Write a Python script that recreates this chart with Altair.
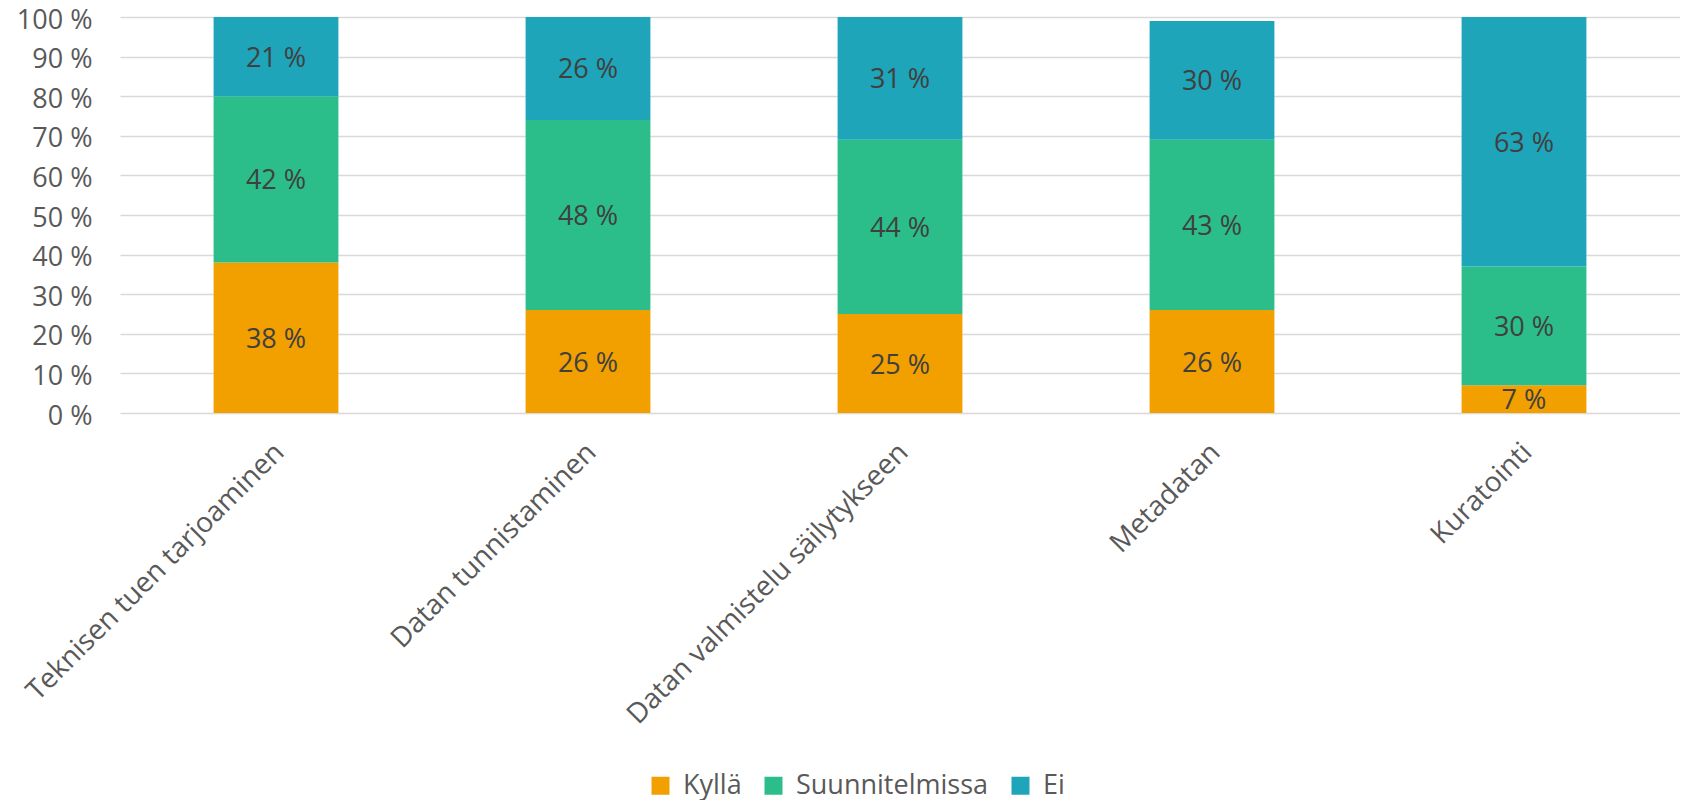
import altair as alt
import pandas as pd

categories = ["Teknisen tuen tarjoaminen", "Datan tunnistaminen",
              "Datan valmistelu säilytykseen", "Metadatan", "Kuratointi"]
series = ["Kyllä", "Suunnitelmissa", "Ei"]
kylla = [38, 26, 25, 26, 7]
suunnitelmissa = [42, 48, 44, 43, 30]
ei = [21, 26, 31, 30, 63]
colors = ["#F29F00", "#2BBE8A", "#1EA5B9"]
y_ticks = [0, 10, 20, 30, 40, 50, 60, 70, 80, 90, 100]

rows = []
for i, c in enumerate(categories):
    for j, (s, vals) in enumerate(zip(series, [kylla, suunnitelmissa, ei])):
        rows.append({"cat": c, "series": s, "value": vals[i], "order": j})
df = pd.DataFrame(rows)

FONT = "Open Sans"
LABEL_COLOR = "#595959"

base = alt.Chart(df).transform_stack(
    stack="value", groupby=["cat"], as_=["y0", "y1"],
    sort=[alt.SortField("order", order="ascending")]
).transform_calculate(
    mid="(datum.y0 + min(datum.y1, 100)) / 2",
    label="datum.value + ' %'"
)

x_axis = alt.Axis(title=None, labelAngle=-45, labelAlign="right",
                  labelBaseline="top", labelPadding=25, labelOffset=-6,
                  labelFontSize=28, labelColor=LABEL_COLOR, labelFont=FONT,
                  domain=False, ticks=False, grid=False, labelLimit=0,
                  labelOverlap=False)
x_scale = alt.Scale(paddingInner=0.6, paddingOuter=0.3)

y_axis = alt.Axis(values=y_ticks, labelExpr="datum.value + ' %'", title=None,
                  grid=True, gridColor="#D9D9D9", gridWidth=1.5,
                  domain=False, ticks=False, labelPadding=28, labelOffset=3,
                  labelOverlap=False, labelFlush=False,
                  labelFontSize=27, labelColor=LABEL_COLOR, labelFont=FONT)
y_scale = alt.Scale(domain=[0, 100], nice=False)

bars = base.mark_bar(clip=True).encode(
    x=alt.X("cat:N", sort=categories, scale=x_scale, axis=x_axis),
    y=alt.Y("y0:Q", scale=y_scale, axis=y_axis),
    y2="y1:Q",
    color=alt.Color("series:N", scale=alt.Scale(domain=series, range=colors),
                    legend=alt.Legend(title=None, orient="none", legendX=527, legendY=755,
                                      direction="horizontal", symbolType="square",
                                      symbolSize=324, symbolStrokeWidth=0,
                                      labelFontSize=27, labelColor=LABEL_COLOR,
                                      labelFont=FONT, columnPadding=18, labelOffset=9,
                                      labelLimit=0)),
    order=alt.Order("order:Q")
)

texts = base.mark_text(clip=True, fontSize=27, font=FONT, color="#404040", dy=2).encode(
    x=alt.X("cat:N", sort=categories, scale=x_scale, axis=x_axis),
    y=alt.Y("mid:Q", scale=y_scale, axis=y_axis),
    text=alt.Text("label:N")
)

chart = alt.layer(bars, texts).properties(
    width=1560, height=396,
    padding={"left": 112, "top": 9, "right": 0, "bottom": 387},
    autosize=alt.AutoSizeParams(type="none")
).configure_view(stroke=None)

chart.save("out.html", embed_options={"renderer": "svg", "actions": False})
